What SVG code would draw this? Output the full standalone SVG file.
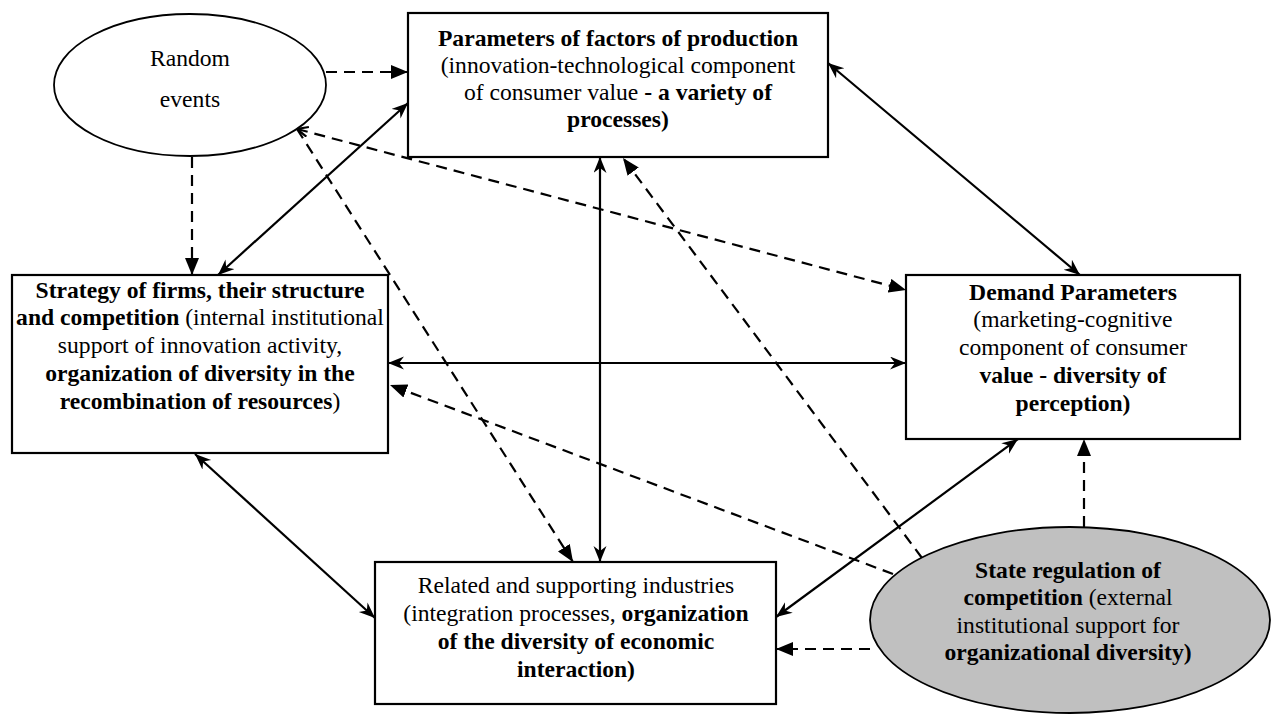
<svg xmlns="http://www.w3.org/2000/svg" width="1273" height="716" viewBox="0 0 1273 716">
  <style>
    .box { fill: #ffffff; stroke: #000000; stroke-width: 2.2; }
    .oval { fill: #ffffff; stroke: #000000; stroke-width: 1.8; }
    .oval-grey { fill: #c0c0c0; stroke: #000000; stroke-width: 1.8; }
    .lbl { font-family: "Liberation Serif", "Times New Roman", serif; font-size: 22.5px; fill: #000000; text-anchor: middle; }
    .b { font-weight: bold; }
    .solid { fill: none; stroke: #000000; stroke-width: 2.2; marker-start: url(#barb); marker-end: url(#barb); }
    .dash { fill: none; stroke: #000000; stroke-width: 2.2; stroke-dasharray: 11 7; marker-end: url(#tri); }
  </style>
  <defs>
    <marker id="tri" markerUnits="userSpaceOnUse" markerWidth="18" markerHeight="14" refX="17" refY="7" orient="auto">
      <path d="M0,0 L17,7 L0,14 Z" fill="#000000"/>
    </marker>
    <marker id="barb" markerUnits="userSpaceOnUse" markerWidth="18" markerHeight="14" refX="16" refY="6.5" orient="auto-start-reverse">
      <path d="M0,0 L16,6.5 L0,13 L5,6.5 Z" fill="#000000"/>
    </marker>
    <marker id="chev" markerUnits="userSpaceOnUse" markerWidth="14" markerHeight="12" refX="1" refY="6" orient="auto">
      <path d="M12,1 L1,6 L12,11" fill="none" stroke="#000000" stroke-width="2.2"/>
    </marker>
  </defs>

  <!-- connectors -->
  <g id="connectors">
    <path class="dash" d="M326,72 L408,72"/>
    <path class="dash" d="M192,157 L192,275"/>
    <path class="solid" d="M408,103 L218,275"/>
    <path class="solid" d="M828,63 L1080,275"/>
    <path class="solid" d="M600,157 L600,562"/>
    <path class="solid" d="M388,363 L906,363"/>
    <path class="solid" d="M195,454 L375,618"/>
    <path class="solid" d="M776,617 L1018,439"/>
    <path class="dash" d="M297,129 L906,290" marker-start="url(#chev)"/>
    <path class="dash" d="M297,129 L573,562"/>
    <path class="dash" d="M922,558 L623,158"/>
    <path class="dash" d="M893,574 L390,385"/>
    <path class="dash" d="M870,649 L776,649"/>
    <path class="dash" d="M1084,527 L1084,439"/>
  </g>

  <!-- random events -->
  <g id="random-events">
    <ellipse class="oval" cx="190" cy="85" rx="136" ry="71"/>
    <g transform="matrix(1.05 0 0 1 -9.5 0)">
      <text class="lbl" x="190" y="66">Random</text>
      <text class="lbl" x="190" y="107">events</text>
    </g>
  </g>

  <!-- factors of production -->
  <g id="factors-of-production">
    <rect class="box" x="408" y="13" width="420" height="144"/>
    <g transform="matrix(1.05 0 0 1 -30.9 0)">
      <text class="lbl" x="618" y="46"><tspan class="b">Parameters of factors of production</tspan></text>
      <text class="lbl" x="618" y="73">(innovation-technological component</text>
      <text class="lbl" x="618" y="100">of consumer value <tspan class="b">- a variety of</tspan></text>
      <text class="lbl" x="618" y="127"><tspan class="b">processes)</tspan></text>
    </g>
  </g>

  <!-- firm strategy -->
  <g id="firm-strategy">
    <rect class="box" x="12" y="275" width="376" height="178"/>
    <g transform="matrix(1.05 0 0 1 -10 0)">
      <text class="lbl" x="200" y="298"><tspan class="b">Strategy of firms, their structure</tspan></text>
      <text class="lbl" x="200" y="325"><tspan class="b">and competition</tspan> (internal institutional</text>
      <text class="lbl" x="200" y="353">support of innovation activity,</text>
      <text class="lbl" x="200" y="381"><tspan class="b">organization of diversity in the</tspan></text>
      <text class="lbl" x="200" y="409"><tspan class="b">recombination of resources</tspan>)</text>
    </g>
  </g>

  <!-- demand parameters -->
  <g id="demand-parameters">
    <rect class="box" x="906" y="275" width="334" height="164"/>
    <g transform="matrix(1.05 0 0 1 -53.65 0)">
      <text class="lbl" x="1073" y="300"><tspan class="b">Demand Parameters</tspan></text>
      <text class="lbl" x="1073" y="327">(marketing-cognitive</text>
      <text class="lbl" x="1073" y="355">component of consumer</text>
      <text class="lbl" x="1073" y="383"><tspan class="b">value - diversity of</tspan></text>
      <text class="lbl" x="1073" y="411"><tspan class="b">perception)</tspan></text>
    </g>
  </g>

  <!-- related industries -->
  <g id="related-industries">
    <rect class="box" x="375" y="562" width="401" height="142"/>
    <g transform="matrix(1.05 0 0 1 -28.8 0)">
      <text class="lbl" x="576" y="593">Related and supporting industries</text>
      <text class="lbl" x="576" y="621">(integration processes, <tspan class="b">organization</tspan></text>
      <text class="lbl" x="576" y="649"><tspan class="b">of the diversity of economic</tspan></text>
      <text class="lbl" x="576" y="677"><tspan class="b">interaction)</tspan></text>
    </g>
  </g>

  <!-- state regulation -->
  <g id="state-regulation">
    <ellipse class="oval-grey" cx="1070" cy="620" rx="200" ry="93"/>
    <g transform="matrix(1.05 0 0 1 -53.4 0)">
      <text class="lbl" x="1068" y="578"><tspan class="b">State regulation of</tspan></text>
      <text class="lbl" x="1068" y="605"><tspan class="b">competition</tspan> (external</text>
      <text class="lbl" x="1068" y="633">institutional support for</text>
      <text class="lbl" x="1068" y="660"><tspan class="b">organizational diversity)</tspan></text>
    </g>
  </g>
</svg>
